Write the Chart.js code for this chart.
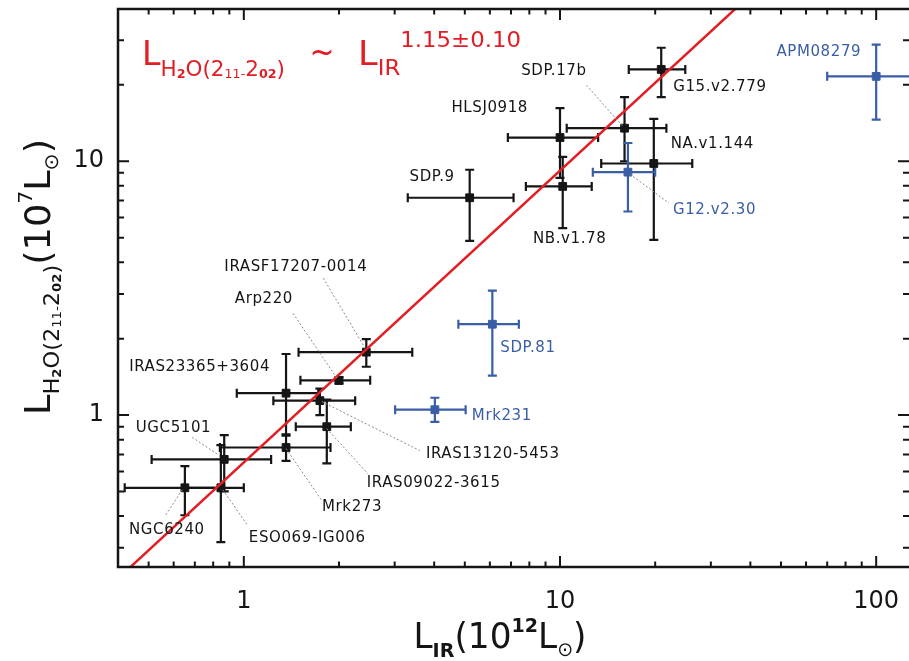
<!DOCTYPE html>
<html>
<head>
<meta charset="utf-8">
<script src="https://cdn.jsdelivr.net/npm/chart.js@4.4.0/dist/chart.umd.min.js"></script>
<style>
  html, body { margin:0; padding:0; background:#fff; overflow:hidden; }
  #wrap { width:909px; height:661px; position:relative; }
</style>
</head>
<body>
<div id="wrap"><canvas id="c"></canvas></div>
<script>
// sources, L_IR (1e12 Lsun) and L_H2O (1e7 Lsun) with error ranges
const names = ['APM08279','G15.v2.779','SDP.17b','HLSJ0918','NA.v1.144','G12.v2.30','NB.v1.78','SDP.9',
  'SDP.81','Mrk231','IRASF17207-0014','Arp220','IRAS23365+3604','IRAS13120-5453','IRAS09022-3615',
  'Mrk273','UGC5101','NGC6240','ESO069-IG006'];
const lirVal = [100, 20.9, 16.0, 10.0, 19.8, 16.4, 10.2, 5.18, 6.11, 4.02, 2.44, 2.0, 1.36, 1.74, 1.83, 1.36, 0.867, 0.651, 0.846];
const lirLo  = [70, 16.5, 10.5, 6.84, 13.5, 12.7, 7.8, 3.30, 4.77, 3.01, 1.49, 1.51, 0.95, 1.24, 1.46, 0.84, 0.511, 0.42, 0.65];
const lirHi  = [142, 24.9, 21.7, 13.2, 26.2, 20.0, 12.6, 7.13, 7.41, 5.03, 3.41, 2.51, 1.72, 2.25, 2.18, 1.88, 1.22, 0.84, 1.0];
const h2oVal = [21.6, 23.0, 13.5, 12.4, 9.8, 9.06, 7.96, 7.18, 2.28, 1.05, 1.77, 1.37, 1.22, 1.14, 0.90, 0.745, 0.669, 0.517, 0.517];
const h2oLo  = [14.6, 17.9, 10.0, 8.6, 4.9, 6.34, 5.45, 4.86, 1.43, 0.94, 1.55, 1.33, 0.84, 1.0, 0.645, 0.66, 0.50, 0.403, 0.316];
const h2oHi  = [28.8, 28.0, 17.9, 16.2, 14.7, 11.8, 10.4, 9.26, 3.09, 1.17, 1.99, 1.41, 1.74, 1.27, 1.15, 0.83, 0.834, 0.629, 0.762];
// sources not in the fit (drawn blue)
const excluded = [true, false, false, false, false, true, false, false, true, true, false, false, false, false, false, false, false, false, false];

// fit line L_H2O ~ L_IR^1.15, end points
const fitX = [0.4, 40];
const fitY = [0.227, 45.2];

const xMajor = [1, 10, 100];
const xMinor = [0.5, 0.6, 0.7, 0.8, 0.9, 2, 3, 4, 5, 6, 7, 8, 9, 20, 30, 40, 50, 60, 70, 80, 90];
const yMajor = [1, 10];
const yMinor = [0.3, 0.4, 0.5, 0.6, 0.7, 0.8, 0.9, 2, 3, 4, 5, 6, 7, 8, 9, 20, 30];

// label placement, offsets in px from the point; lead = dotted leader [x0,y0,x1,y1]
const labelPos = [
  {dx:-15, dy:-24, al:'right'},
  {dx:12, dy:18, al:'left'},
  {dx:-38, dy:-57, al:'right', lead:[-38,-43,-2,-2]},
  {dx:-32, dy:-29, al:'right'},
  {dx:17, dy:-19, al:'left'},
  {dx:45, dy:38, al:'left', lead:[2,2,41,31]},
  {dx:7, dy:53, al:'center'},
  {dx:-15, dy:-21, al:'right'},
  {dx:8, dy:24, al:'left'},
  {dx:37, dy:6, al:'left'},
  {dx:1, dy:-85, al:'right', lead:[-43,-74,-3,-7]},
  {dx:-46, dy:-81, al:'right', lead:[-46,-67,-2,-2]},
  {dx:-16, dy:-26, al:'right'},
  {dx:106, dy:53, al:'left', lead:[2,1,100,50]},
  {dx:40, dy:56, al:'left', lead:[0,2,41,47]},
  {dx:36, dy:60, al:'left', lead:[0,1,35,52]},
  {dx:-13, dy:-31, al:'right', lead:[-32,-22,-5,-4]},
  {dx:-18, dy:42, al:'center', lead:[-19,27,-2,1]},
  {dx:28, dy:50, al:'left', lead:[2,2,27,38]}
];

const BLACK = '#151515', BLUE = '#3a5ea6', RED = '#e21d24';
const FAM = '"DejaVu Sans", sans-serif';

const pts = (flag) => names.map((n, i) => ({x: lirVal[i], y: h2oVal[i], i})).filter(p => excluded[p.i] === flag);

function rich(ctx, parts, x, y, o) {
  const ws = parts.map(p => { ctx.font = `${p[3] || 'normal'} ${p[1]}px ${FAM}`; return ctx.measureText(p[0]).width; });
  const w = ws.reduce((a, b) => a + b, 0);
  const sx = o.width ? o.width / w : 1;
  ctx.save();
  ctx.fillStyle = o.color;
  ctx.textBaseline = 'alphabetic';
  ctx.translate(x, y);
  if (o.rotate) ctx.rotate(o.rotate);
  const off = o.align === 'center' ? -w * sx / 2 : o.align === 'right' ? -w * sx : 0;
  ctx.translate(off, 0);
  ctx.scale(sx, 1);
  let cx = 0;
  parts.forEach((p, k) => {
    ctx.font = `${p[3] || 'normal'} ${p[1]}px ${FAM}`;
    ctx.fillText(p[0], cx, p[2]);
    cx += ws[k];
  });
  ctx.restore();
}

const noPad = s => { s.paddingLeft = 0; s.paddingRight = 0; s.paddingTop = 0; s.paddingBottom = 0; };

const errBars = {
  id: 'errBars',
  beforeDatasetsDraw(chart) {
    const {ctx, chartArea: a, scales: {x, y}} = chart;
    ctx.save();
    ctx.beginPath(); ctx.rect(a.left, a.top, a.right - a.left, a.bottom - a.top); ctx.clip();
    ctx.lineWidth = 2.2;
    const cap = 4.5;
    names.forEach((n, i) => {
      ctx.strokeStyle = excluded[i] ? BLUE : BLACK;
      const px = x.getPixelForValue(lirVal[i]), py = y.getPixelForValue(h2oVal[i]);
      const x0 = x.getPixelForValue(lirLo[i]), x1 = x.getPixelForValue(lirHi[i]);
      const y0 = y.getPixelForValue(h2oLo[i]), y1 = y.getPixelForValue(h2oHi[i]);
      ctx.beginPath();
      ctx.moveTo(x0, py); ctx.lineTo(x1, py);
      ctx.moveTo(x0, py - cap); ctx.lineTo(x0, py + cap);
      ctx.moveTo(x1, py - cap); ctx.lineTo(x1, py + cap);
      ctx.moveTo(px, y0); ctx.lineTo(px, y1);
      ctx.moveTo(px - cap, y0); ctx.lineTo(px + cap, y0);
      ctx.moveTo(px - cap, y1); ctx.lineTo(px + cap, y1);
      ctx.stroke();
    });
    ctx.restore();
  },
  afterDatasetsDraw(chart) {
    const {ctx, scales: {x, y}} = chart;
    ctx.save();
    names.forEach((n, i) => {
      const L = labelPos[i];
      const px = x.getPixelForValue(lirVal[i]), py = y.getPixelForValue(h2oVal[i]);
      if (L.lead) {
        ctx.strokeStyle = '#8a8a8a'; ctx.lineWidth = 1; ctx.setLineDash([2, 2]);
        ctx.beginPath();
        ctx.moveTo(px + L.lead[0], py + L.lead[1]);
        ctx.lineTo(px + L.lead[2], py + L.lead[3]);
        ctx.stroke();
        ctx.setLineDash([]);
      }
      ctx.font = `15px ${FAM}`;
      ctx.letterSpacing = '0.6px';
      ctx.fillStyle = excluded[i] ? BLUE : BLACK;
      ctx.textAlign = L.al; ctx.textBaseline = 'middle';
      ctx.fillText(n, px + L.dx, py + L.dy);
    });
    ctx.restore();
  },
  afterDraw(chart) {
    const {ctx, chartArea: a, scales: {x, y}} = chart;
    ctx.save();
    ctx.strokeStyle = BLACK; ctx.lineWidth = 2.5;
    ctx.beginPath();
    ctx.moveTo(a.right + 2, a.top); ctx.lineTo(a.left, a.top); ctx.lineTo(a.left, a.bottom); ctx.lineTo(a.right + 2, a.bottom);
    ctx.stroke();
    ctx.lineWidth = 2;
    const tick = (vals, len) => {
      vals.forEach(v => {
        const px = x.getPixelForValue(v);
        if (px > a.left && px < a.right) {
          ctx.moveTo(px, a.bottom); ctx.lineTo(px, a.bottom - len);
          ctx.moveTo(px, a.top); ctx.lineTo(px, a.top + len);
        }
      });
    };
    const tickY = (vals, len) => {
      vals.forEach(v => {
        const py = y.getPixelForValue(v);
        if (py > a.top && py < a.bottom) {
          ctx.moveTo(a.left, py); ctx.lineTo(a.left + len, py);
          ctx.moveTo(a.right, py); ctx.lineTo(a.right - len, py);
        }
      });
    };
    ctx.beginPath();
    tick(xMajor, 11); tick(xMinor, 5.5); tickY(yMajor, 11); tickY(yMinor, 6);
    ctx.stroke();

    // axis titles
    rich(ctx, [['L',36,0],['IR',20,9,'bold'],['(',36,0],['10',36,0],['12',20,-16,'bold'],['L',36,0],['\u2299',20,8],[')',36,0]],
      500, 648, {align:'center', width:173, color:BLACK});
    rich(ctx, [['L',36,0],['H',22,9],['2',13,11,'bold'],['O(2',22,9],['11',13,11],['-',13,11],['2',22,9],['02',13,11,'bold'],[')',22,9],
      ['(10',36,0],['7',20,-18],['L',36,0],['\u2299',20,8],[')',36,0]],
      50, 277, {align:'center', width:276, rotate:-Math.PI/2, color:BLACK});

    // fit relation
    rich(ctx, [['L',34,0],['H',22,11],['2',13,13,'bold'],['O(2',22,11],['11',13,13],['-',13,13],['2',22,11],['02',13,13,'bold'],[')',22,11]],
      142, 65, {align:'left', width:143, color:RED});
    rich(ctx, [['~',34,0]], 322, 63, {align:'center', width:25, color:RED});
    rich(ctx, [['L',34,0],['IR',22,10],['1.15\u00b10.10',22,-18]], 358, 65, {align:'left', width:163, color:RED});
    ctx.restore();
  }
};

new Chart(document.getElementById('c'), {
  type: 'scatter',
  data: {
    datasets: [
      { label: 'fit', type: 'line', data: fitX.map((v, i) => ({x: v, y: fitY[i]})), borderColor: RED, borderWidth: 2.5,
        pointRadius: 0, fill: false, order: 0 },
      { label: 'fitted', data: pts(false), backgroundColor: BLACK, borderColor: BLACK, pointStyle: 'rect', pointRadius: 5.5, order: 1 },
      { label: 'excluded', data: pts(true), backgroundColor: BLUE, borderColor: BLUE, pointStyle: 'rect', pointRadius: 5.5, order: 1 }
    ]
  },
  options: {
    responsive: true, maintainAspectRatio: false, animation: false, devicePixelRatio: 1,
    layout: { autoPadding: false, padding: { top: 9, right: 0, left: 0, bottom: 0 } },
    plugins: { legend: { display: false }, tooltip: { enabled: false } },
    scales: {
      x: {
        type: 'logarithmic', min: 0.4, max: 127,
        grid: { display: false, drawTicks: false }, border: { display: false },
        afterBuildTicks: s => { s.ticks = xMajor.map(v => ({value: v})); },
        afterFit: s => { s.height = 94; noPad(s); },
        ticks: { callback: v => String(v), color: BLACK, padding: 20, maxRotation: 0, font: { family: FAM, size: 24 } }
      },
      y: {
        type: 'logarithmic', min: 0.252, max: 39.8,
        grid: { display: false, drawTicks: false }, border: { display: false },
        afterBuildTicks: s => { s.ticks = yMajor.map(v => ({value: v})); },
        afterFit: s => { s.width = 118; noPad(s); },
        ticks: { callback: v => String(v), color: BLACK, padding: 14, font: { family: FAM, size: 24 } }
      }
    }
  },
  plugins: [errBars]
});
</script>
</body>
</html>
